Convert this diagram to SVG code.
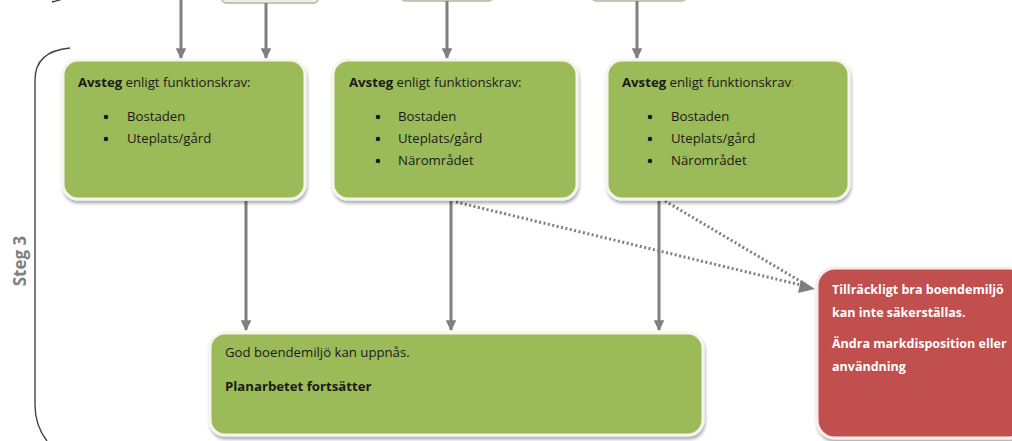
<svg xmlns="http://www.w3.org/2000/svg" width="1012" height="441" viewBox="0 0 1012 441">
<defs>
<marker id="ah" viewBox="0 0 10 10" refX="9" refY="5" markerWidth="3.6" markerHeight="3.6" orient="auto" markerUnits="strokeWidth">
<path d="M0,0 L10,5 L0,10 z" fill="#7f7f7f"/>
</marker>
<filter id="sh" x="-10%" y="-10%" width="120%" height="130%">
<feDropShadow dx="1" dy="3" stdDeviation="1.5" flood-color="#000" flood-opacity="0.3"/>
</filter>
</defs>
<style>
.g{fill:#9BBB59;stroke:#f4f6ee;stroke-width:3;filter:url(#sh)}
.r{fill:#C0504D;stroke:#f6eeee;stroke-width:3;filter:url(#sh)}
.p{fill:#EBF1DE;stroke:#b5b5a5;stroke-width:1.5}
.t{font-family:"Open Sans","Liberation Sans",sans-serif;font-size:13.2px;fill:#1a1a1a}
.b{font-weight:bold}
.w{font-family:"Open Sans","Liberation Sans",sans-serif;font-size:12.5px;fill:#fff;font-weight:bold}
.a{stroke:#7f7f7f;stroke-width:3;fill:none;marker-end:url(#ah)}
.d{stroke:#7f7f7f;stroke-width:3;fill:none;stroke-dasharray:2 2.5}
</style>
<rect width="1012" height="441" fill="#fff"/>
<g id="top-partials">
<rect class="p" x="222" y="-20" width="96" height="23" rx="4"/>
<rect class="p" x="401" y="-20" width="92" height="21" rx="4"/>
<rect class="p" x="592" y="-20" width="94" height="21" rx="4"/>
<path d="M52,2 Q60,0 66,-2" stroke="#333" stroke-width="1.3" fill="none"/>
</g>
<g id="bracket">
<path d="M70,48 C48,50 35,60 35,80 L35,405 C35,420 40,432 47,441" stroke="#444" stroke-width="1.4" fill="none"/>
<text transform="translate(26,261) rotate(-90)" text-anchor="middle" font-family="Open Sans,Liberation Sans,sans-serif" font-size="17" font-weight="bold" fill="#808080">Steg 3</text>
</g>
<g id="connectors">
<line class="a" x1="181" y1="0" x2="181" y2="58"/>
<line class="a" x1="266" y1="3" x2="266" y2="58"/>
<line class="a" x1="447" y1="1" x2="447" y2="58"/>
<line class="a" x1="637" y1="1" x2="637" y2="58"/>
<line class="a" x1="246" y1="201" x2="246" y2="330"/>
<line class="a" x1="451" y1="201" x2="451" y2="330"/>
<line class="a" x1="659" y1="201" x2="659" y2="330"/>
<line class="d" x1="456" y1="202" x2="805" y2="286"/>
<line class="d" x1="665" y1="201" x2="805" y2="284"/>
<path d="M815,289 L801,280 L798,293 z" fill="#7f7f7f"/>
</g>
<g id="box-a">
<rect class="g" x="63" y="60" width="242" height="139" rx="15"/>
<text class="t" x="78" y="87"><tspan class="b">Avsteg</tspan> enligt funktionskrav:</text>
<circle cx="106" cy="117" r="2.3" fill="#1a1a1a"/>
<circle cx="106" cy="139" r="2.3" fill="#1a1a1a"/>
<text class="t" x="127" y="121">Bostaden</text>
<text class="t" x="127" y="143">Uteplats/gård</text>
</g>
<g id="box-b">
<rect class="g" x="333" y="60" width="244" height="139" rx="15"/>
<text class="t" x="349" y="87"><tspan class="b">Avsteg</tspan> enligt funktionskrav:</text>
<circle cx="378" cy="117" r="2.3" fill="#1a1a1a"/>
<circle cx="378" cy="139" r="2.3" fill="#1a1a1a"/>
<circle cx="378" cy="161" r="2.3" fill="#1a1a1a"/>
<text class="t" x="398" y="121">Bostaden</text>
<text class="t" x="398" y="143">Uteplats/gård</text>
<text class="t" x="398" y="165">Närområdet</text>
</g>
<g id="box-c">
<rect class="g" x="607" y="60" width="242" height="139" rx="15"/>
<text class="t" x="622" y="87"><tspan class="b">Avsteg</tspan> enligt funktionskrav<tspan fill="#E36C09">:</tspan></text>
<circle cx="650" cy="117" r="2.3" fill="#1a1a1a"/>
<circle cx="650" cy="139" r="2.3" fill="#1a1a1a"/>
<circle cx="650" cy="161" r="2.3" fill="#1a1a1a"/>
<text class="t" x="671" y="121">Bostaden</text>
<text class="t" x="671" y="143">Uteplats/gård</text>
<text class="t" x="671" y="165">Närområdet</text>
</g>
<g id="box-result">
<rect class="g" x="210" y="333" width="493" height="102" rx="15"/>
<text class="t" x="225" y="357" font-size="13">God boendemiljö kan uppnås.</text>
<text class="t b" x="225" y="391" font-size="14.3">Planarbetet fortsätter</text>
</g>
<g id="box-fail">
<rect class="r" x="817" y="268" width="210" height="170" rx="18"/>
<text class="w" x="832" y="294">Tillräckligt bra boendemiljö</text>
<text class="w" x="832" y="317">kan inte säkerställas.</text>
<text class="w" x="832" y="348">Ändra markdisposition eller</text>
<text class="w" x="832" y="371">användning</text>
</g>
</svg>
